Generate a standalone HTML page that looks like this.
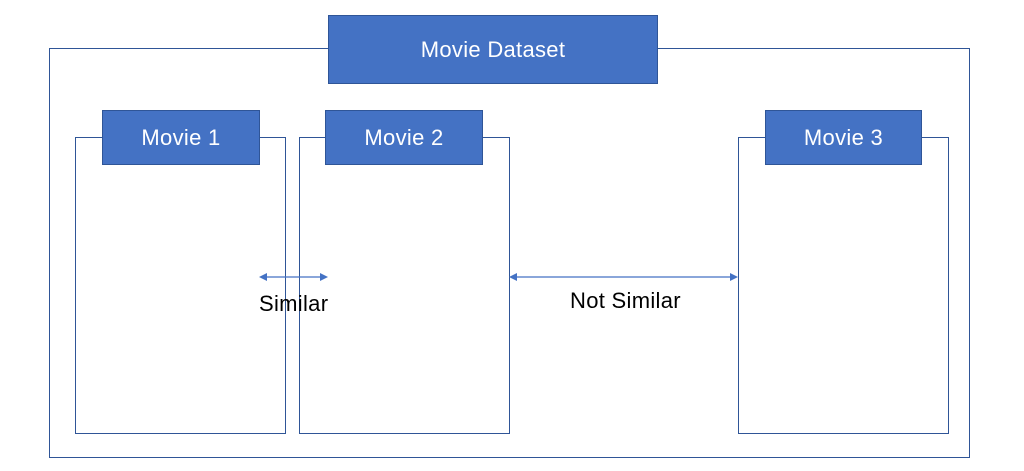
<!DOCTYPE html>
<html><head><style>
body{margin:0;width:1024px;height:471px;background:#fff;position:relative;overflow:hidden;font-family:"Liberation Sans",sans-serif}
.b{position:absolute;border:1px solid #2f5597;box-sizing:border-box}
.h{position:absolute;background:#4472c4;border:1.5px solid #2f5597;box-sizing:border-box;color:#fff;display:flex;align-items:center;justify-content:center;font-size:22px;letter-spacing:0.3px}
.t{position:absolute;font-size:22px;color:#000;letter-spacing:0.3px}
</style></head><body>
<div class="b" style="left:49px;top:48px;width:921px;height:410px"></div>
<div class="h" style="left:328px;top:15px;width:330px;height:69px">Movie Dataset</div>
<div class="b" style="left:75px;top:137px;width:211px;height:297px;background:#fff"></div>
<div class="b" style="left:299px;top:137px;width:211px;height:297px;background:#fff"></div>
<div class="b" style="left:738px;top:137px;width:211px;height:297px;background:#fff"></div>
<div class="h" style="left:102px;top:110px;width:158px;height:55px">Movie 1</div>
<div class="h" style="left:325px;top:110px;width:158px;height:55px">Movie 2</div>
<div class="h" style="left:765px;top:110px;width:157px;height:55px">Movie 3</div>
<svg style="position:absolute;left:0;top:0" width="1024" height="471">
<g stroke="#4472c4" stroke-width="1.3" fill="#4472c4">
<line x1="262" y1="277" x2="325" y2="277"/>
<polygon points="259,277 267,273 267,281" stroke="none"/>
<polygon points="328,277 320,273 320,281" stroke="none"/>
<line x1="512" y1="277" x2="735" y2="277"/>
<polygon points="509,277 517,273 517,281" stroke="none"/>
<polygon points="738,277 730,273 730,281" stroke="none"/>
</g></svg>
<div class="t" style="left:259px;top:291px">Similar</div>
<div class="t" style="left:570px;top:288px">Not Similar</div>
</body></html>
